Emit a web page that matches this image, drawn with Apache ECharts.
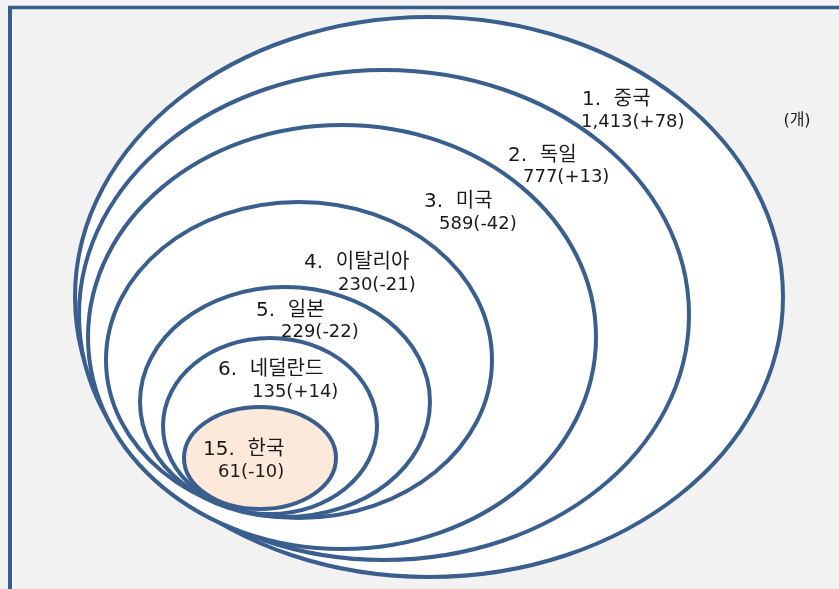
<!DOCTYPE html>
<html lang="ko">
<head>
    <meta charset="UTF-8">
    <title>국가별 개수</title>
    <script src="https://cdn.jsdelivr.net/npm/echarts@6/dist/echarts.min.js"></script>
    <style>
        html, body { margin: 0; padding: 0; background: #f2f2f2; }
        #main { width: 839px; height: 589px; }
    </style>
</head>
<body>
<div id="main"></div>
<script>
    // 순위, 국가, 개수, 전년 대비 증감
    const ranks = [1, 2, 3, 4, 5, 6, 15];
    const countries = ['중국', '독일', '미국', '이탈리아', '일본', '네덜란드', '한국'];
    const counts = [1413, 777, 589, 230, 229, 135, 61];
    const changes = [78, 13, -42, -21, -22, 14, -10];
    const unitText = '(개)';

    // 타원 배치 (축 단위)
    const ringCx = [429, 384, 342, 299, 285, 270, 260];
    const ringCy = [297, 315, 337, 360, 402, 426, 458];
    const ringRx = [354, 305, 254, 193, 145, 107, 76];
    const ringRy = [280, 245, 212, 158, 115, 88, 51];

    // 라벨 위치 (축 단위)
    const nameX = [582, 508, 424, 304, 256, 218, 203];
    const nameY = [100, 156, 202, 263, 311, 370, 450];
    const valueX = [581, 523, 439, 338, 281, 252, 218];
    const valueY = [122, 177, 224, 285, 332, 392, 472];

    const lineColor = '#3a5f8e';
    const fmtCount = (v) => v.toLocaleString('en-US');
    const fmtChange = (v) => '(' + (v > 0 ? '+' : '') + v + ')';

    const ringData = countries.map((c, i) => [ringCx[i], ringCy[i], ringRx[i], ringRy[i], i]);
    const labelData = countries.map((c, i) => [nameX[i], nameY[i], valueX[i], valueY[i], i]);

    const chart = echarts.init(document.getElementById('main'));
    const option = {
        backgroundColor: '#f2f2f2',
        animation: false,
        grid: {left: 0, right: 0, top: 0, bottom: 0},
        xAxis: {type: 'value', min: 0, max: 839, show: false},
        yAxis: {type: 'value', min: 0, max: 589, inverse: true, show: false},
        graphic: [
            {type: 'line', shape: {x1: 8, y1: 7.5, x2: 839, y2: 7.5}, style: {stroke: lineColor, lineWidth: 3.5}},
            {type: 'line', shape: {x1: 10, y1: 6, x2: 10, y2: 589}, style: {stroke: lineColor, lineWidth: 4}}
        ],
        series: [{
            type: 'custom',
            coordinateSystem: 'cartesian2d',
            data: ringData,
            renderItem (params, api) {
                const c = api.coord([api.value(0), api.value(1)]);
                const s = api.size([api.value(2), api.value(3)]);
                const idx = api.value(4);
                return {
                    type: 'ellipse',
                    shape: {cx: c[0], cy: c[1], rx: s[0], ry: s[1]},
                    style: {
                        fill: idx === countries.length - 1 ? '#fde9d9' : '#ffffff',
                        stroke: lineColor,
                        lineWidth: 4
                    }
                };
            }
        }, {
            type: 'custom',
            coordinateSystem: 'cartesian2d',
            z: 5,
            data: labelData,
            renderItem (params, api) {
                const idx = api.value(4);
                const p1 = api.coord([api.value(0), api.value(1)]);
                const p2 = api.coord([api.value(2), api.value(3)]);
                return {
                    type: 'group',
                    children: [{
                        type: 'text',
                        x: p1[0], y: p1[1],
                        style: {
                            text: ranks[idx] + '.  ' + countries[idx],
                            fill: '#1a1a1a',
                            font: '20px "DejaVu Sans", "Noto Sans CJK KR", sans-serif',
                            align: 'left', verticalAlign: 'middle'
                        }
                    }, {
                        type: 'text',
                        x: p2[0], y: p2[1],
                        style: {
                            text: fmtCount(counts[idx]) + fmtChange(changes[idx]),
                            fill: '#1a1a1a',
                            font: '18px "DejaVu Sans", "Noto Sans CJK KR", sans-serif',
                            align: 'left', verticalAlign: 'middle'
                        }
                    }]
                };
            }
        }, {
            type: 'custom',
            coordinateSystem: 'cartesian2d',
            z: 5,
            data: [[797, 121]],
            renderItem (params, api) {
                const p = api.coord([api.value(0), api.value(1)]);
                return {
                    type: 'text',
                    x: p[0], y: p[1],
                    style: {
                        text: unitText,
                        fill: '#1a1a1a',
                        font: '16px "DejaVu Sans", "Noto Sans CJK KR", sans-serif',
                        align: 'center', verticalAlign: 'middle'
                    }
                };
            }
        }]
    };
    chart.setOption(option);
</script>
</body>
</html>
